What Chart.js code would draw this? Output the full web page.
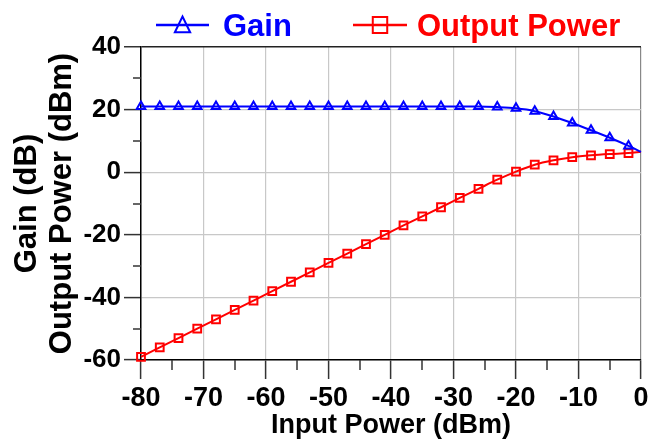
<!DOCTYPE html>
<html>
<head>
<meta charset="utf-8">
<script src="https://cdn.jsdelivr.net/npm/chart.js@4/dist/chart.umd.min.js"></script>
<style>
html,body{margin:0;padding:0;background:#fff;}
canvas{display:block;}
</style>
</head>
<body>
<canvas id="c" width="661" height="439"></canvas>
<script>
// ---- data ----
const inputPower = [-80,-77,-74,-71,-68,-65,-62,-59,-56,-53,-50,-47,-44,-41,-38,-35,-32,-29,-26,-23,-20,-17,-14,-11,-8,-5,-2,0];
const gainDb = [21,21,21,21,21,21,21,21,21,21,21,21,21,21,21,21,21,21,21,20.8,20.4,19.5,17.8,15.7,13.4,11.0,8.4,6.5];
const outputPowerDbm = [-59,-56,-53,-50,-47,-44,-41,-38,-35,-32,-29,-26,-23,-20,-17,-14.1,-11.2,-8.2,-5.3,-2.4,0.2,2.4,3.8,4.8,5.4,5.8,6.1,6.5];
const markerShown = [1,1,1,1,1,1,1,1,1,1,1,1,1,1,1,1,1,1,1,1,1,1,1,1,1,1,1,0];
const seriesNames = ['Gain','Output Power'];
const xMinorTicks = [-75,-65,-55,-45,-35,-25,-15,-5];
const yMinorTicks = [30,10,-10,-30,-50];

const FONT = '"Liberation Sans", Arial, Helvetica, sans-serif';

function pts(ys){ return inputPower.map((x,i)=>({x:x, y:ys[i]})); }

const minorTickPlugin = {
  id:'minorTicks',
  afterDraw(chart){
    const {ctx, scales, chartArea:a} = chart;
    ctx.save();
    ctx.strokeStyle = '#333';
    ctx.lineWidth = 1.5;
    xMinorTicks.forEach(v=>{
      const px = Math.round(scales.x.getPixelForValue(v));
      ctx.beginPath(); ctx.moveTo(px, a.bottom); ctx.lineTo(px, a.bottom+10); ctx.stroke();
    });
    yMinorTicks.forEach(v=>{
      const py = Math.round(scales.y.getPixelForValue(v));
      ctx.beginPath(); ctx.moveTo(a.left, py); ctx.lineTo(a.left-8, py); ctx.stroke();
    });
    ctx.restore();
  }
};

function drawMarker(ctx, style, x, y, r){
  ctx.beginPath();
  if(style==='triangle'){
    ctx.moveTo(x, y - r);
    ctx.lineTo(x + r*0.9, y + r*0.85);
    ctx.lineTo(x - r*0.9, y + r*0.85);
    ctx.closePath();
  } else {
    ctx.rect(x - r*0.85, y - r*0.95, r*1.7, r*1.9);
  }
  ctx.stroke();
}

const legendPlugin = {
  id:'customLegend',
  afterDraw(chart){
    const ctx = chart.ctx;
    const layout = [{x0:156, x1:209, tx:223}, {x0:353, x1:407, tx:417}];
    ctx.save();
    chart.data.datasets.forEach((ds,i)=>{
      const L = layout[i];
      const yMid = 25;
      ctx.strokeStyle = ds.borderColor;
      ctx.lineWidth = 2.5;
      ctx.beginPath(); ctx.moveTo(L.x0, yMid); ctx.lineTo(L.x1, yMid); ctx.stroke();
      ctx.lineWidth = 2;
      drawMarker(ctx, ds.pointStyle, (L.x0+L.x1)/2, yMid, 8.5);
      ctx.fillStyle = ds.borderColor;
      ctx.font = 'bold 31px ' + FONT;
      ctx.textBaseline = 'alphabetic';
      ctx.textAlign = 'left';
      ctx.fillText(ds.label, L.tx, 36);
    });
    ctx.restore();
  }
};

new Chart(document.getElementById('c'), {
  type:'line',
  data:{
    datasets:[
      {
        label: seriesNames[0],
        data: pts(gainDb),
        borderColor:'#0000ff',
        backgroundColor:'rgba(0,0,0,0)',
        borderWidth:2,
        pointStyle:'triangle',
        pointRadius: markerShown.map(m=>m?5:0),
        pointBorderWidth:2,
        pointBorderColor:'#0000ff',
        pointBackgroundColor:'rgba(0,0,0,0)',
        cubicInterpolationMode:'monotone',
        clip:false
      },
      {
        label: seriesNames[1],
        data: pts(outputPowerDbm),
        borderColor:'#ff0000',
        backgroundColor:'rgba(0,0,0,0)',
        borderWidth:2,
        pointStyle:'rect',
        pointRadius: markerShown.map(m=>m?5.5:0),
        pointBorderWidth:2,
        pointBorderColor:'#ff0000',
        pointBackgroundColor:'rgba(0,0,0,0)',
        cubicInterpolationMode:'monotone',
        clip:false
      }
    ]
  },
  options:{
    responsive:false,
    animation:false,
    devicePixelRatio:1,
    layout:{padding:{top:47,right:20,bottom:0,left:0}},
    plugins:{legend:{display:false}, tooltip:{enabled:false}},
    scales:{
      x:{
        type:'linear',
        min:-80, max:0,
        afterFit(s){ s.height = 79; },
        ticks:{stepSize:10, color:'#000', padding:3, font:{family:FONT, size:27, weight:'bold'}, maxRotation:0},
        grid:{
          color: c => c.tick && c.tick.value === 0 ? '#888' : '#c8c8c8',
          lineWidth: 1.2,
          tickLength:19,
          tickColor:'#333',
          tickWidth:1.5
        },
        border:{display:true, color:'#000', width:1.5},
        title:{display:true, text:'Input Power (dBm)', color:'#000', padding:{top:0,bottom:0}, font:{family:FONT, size:27, weight:'bold', lineHeight:1}}
      },
      y:{
        type:'linear',
        min:-60, max:40,
        afterFit(s){ s.width = 141; },
        ticks:{stepSize:20, color:'#000', padding:3, font:{family:FONT, size:26, weight:'bold'}},
        grid:{
          color: c => c.tick && c.tick.value === 40 ? '#222' : '#c8c8c8',
          lineWidth: c => c.tick && c.tick.value === 40 ? 1.5 : 1.2,
          tickLength:17,
          tickColor:'#333',
          tickWidth:1.5
        },
        border:{display:true, color:'#000', width:1.5},
        title:{display:true, text:['Gain (dB)','Output Power (dBm)'], color:'#000', padding:{top:9,bottom:0}, font:{family:FONT, size:31, weight:'bold', lineHeight:1.16}}
      }
    }
  },
  plugins:[minorTickPlugin, legendPlugin]
});
</script>
</body>
</html>
